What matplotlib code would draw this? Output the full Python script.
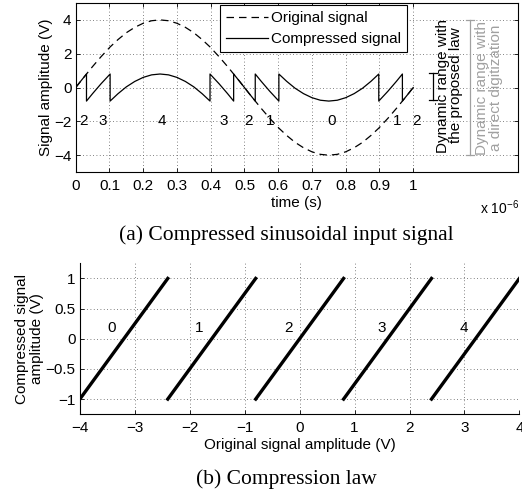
import matplotlib
matplotlib.use("Agg")
import matplotlib.pyplot as plt
import numpy as np

plt.rcParams['font.family'] = ['Liberation Sans', 'DejaVu Sans']
plt.rcParams['font.size'] = 11
plt.rcParams['mathtext.fontset'] = 'custom'
plt.rcParams['mathtext.rm'] = 'Liberation Sans'
plt.rcParams['mathtext.it'] = 'Liberation Sans'
plt.rcParams['xtick.direction'] = 'in'
plt.rcParams['ytick.direction'] = 'in'

# (a) sampled sine input, time in units of 1e-6 s
t_us = [0, 0.015, 0.032, 0.05, 0.075, 0.102, 0.125, 0.15, 0.175, 0.2, 0.225, 0.25,
        0.275, 0.3, 0.325, 0.35, 0.375, 0.398, 0.425, 0.45, 0.468, 0.485, 0.5,
        0.515, 0.532, 0.55, 0.575, 0.602, 0.625, 0.65, 0.675, 0.7, 0.725, 0.75,
        0.775, 0.8, 0.825, 0.85, 0.875, 0.898, 0.925, 0.95, 0.968, 0.985, 1.0]
original = [0, 0.38, 0.8, 1.24, 1.82, 2.4, 2.83, 3.24, 3.56, 3.80, 3.95, 4.0,
            3.95, 3.80, 3.56, 3.24, 2.83, 2.4, 1.82, 1.24, 0.8, 0.38, 0,
            -0.38, -0.8, -1.24, -1.82, -2.4, -2.83, -3.24, -3.56, -3.80, -3.95, -4.0,
            -3.95, -3.80, -3.56, -3.24, -2.83, -2.4, -1.82, -1.24, -0.8, -0.38, 0]

# compression law: 5 sub-ranges of the input
bounds = [-4, -2.4, -0.8, 0.8, 2.4, 4]
centers = [-3.2, -1.6, 0, 1.6, 3.2]
seg_names = ['0', '1', '2', '3', '4']

# segment numbers written under the compressed signal
lab_t = [0.023, 0.08, 0.255, 0.44, 0.512, 0.577, 0.757, 0.953, 1.011]
lab_txt = ['2', '3', '4', '3', '2', '1', '0', '1', '2']
# label positions on the law plot
law_lab_x = [-3.42, -1.83, -0.21, 1.49, 2.99]
law_lab_y = 0.18

# build compressed signal (jump when crossing a sub-range boundary)
tc, yc = [], []
for i in range(len(t_us) - 1):
    m = (original[i] + original[i + 1]) / 2
    k = 0
    while k < 4 and m >= bounds[k + 1]:
        k += 1
    for j in (i, i + 1):
        p = (t_us[j], original[j] - centers[k])
        if len(tc) == 0 or (tc[-1], yc[-1]) != p:
            tc.append(p[0])
            yc.append(p[1])

fig = plt.figure(figsize=(5.22, 4.96), dpi=100)

ax1 = fig.add_axes([0.145, 0.653, 0.847, 0.341])
ax1.plot(t_us, original, color='k', lw=0.9, dashes=(6, 4), label='Original signal')
ax1.plot(tc, yc, color='k', lw=0.9, label='Compressed signal')
for x, s in zip(lab_t, lab_txt):
    ax1.text(x, -2, s, ha='center', va='center')

# dynamic range bars
cap = 0.012
ax1.plot([1.058, 1.058], [-0.75, 0.85], color='k', lw=0.9)
ax1.plot([1.058 - cap, 1.058 + cap], [0.85, 0.85], color='k', lw=0.9)
ax1.plot([1.058 - cap, 1.058 + cap], [-0.75, -0.75], color='k', lw=0.9)
ax1.text(1.108, 0.12, 'Dynamic range with\nthe proposed law', rotation=90,
         ha='center', va='center', linespacing=0.95)
gray = '#a0a0a0'
ax1.plot([1.168, 1.168], [-4, 4], color=gray, lw=0.9)
ax1.plot([1.168 - cap, 1.168 + cap], [4, 4], color=gray, lw=0.9)
ax1.plot([1.168 - cap, 1.168 + cap], [-4, -4], color=gray, lw=0.9)
ax1.text(1.224, 0.0, 'Dynamic range with\na direct digitization', rotation=90,
         ha='center', va='center', color=gray, linespacing=0.95)

ax1.set_xlim(0, 1.31)
ax1.set_ylim(-5, 5)
ax1.set_xticks(np.arange(0, 1.01, 0.1))
ax1.set_xticklabels(['0'] + ['%.1f' % v for v in np.arange(0.1, 0.95, 0.1)] + ['1'])
ax1.set_yticks([-4, -2, 0, 2, 4])
ax1.set_yticklabels(['\u22124', '\u22122', '0', '2', '4'])
ax1.tick_params(top=True, right=True, length=3, width=0.6)
ax1.tick_params(axis='x', pad=5)
ax1.tick_params(axis='y', pad=3)
ax1.grid(True, color='0.35', lw=0.6, dashes=(1, 3))
for sp in ax1.spines.values():
    sp.set_linewidth(0.8)
ax1.set_ylabel('Signal amplitude (V)', labelpad=1)
ax1.set_xlabel('time (s)', labelpad=2)
leg = ax1.legend(loc='upper right', bbox_to_anchor=(0.749, 0.988), borderaxespad=0,
                 fancybox=False, edgecolor='k', framealpha=1, handlelength=2.75,
                 borderpad=0.4, labelspacing=0.45, handletextpad=0.15)
leg.get_frame().set_linewidth(0.8)
fig.text(480 / 522, 1 - 208 / 496, r'x 10$^{-6}$', fontsize=10, va='center')

ax2 = fig.add_axes([0.153, 0.165, 0.842, 0.304])
for k in range(5):
    ax2.plot([bounds[k], bounds[k + 1]], [-1, 1], color='k', lw=2.4)
    ax2.text(law_lab_x[k], law_lab_y, seg_names[k], ha='center', va='center')
ax2.set_xlim(-4, 4)
ax2.set_ylim(-1.25, 1.25)
ax2.set_xticks([-4, -3, -2, -1, 0, 1, 2, 3, 4])
ax2.set_xticklabels(['\u22124', '\u22123', '\u22122', '\u22121', '0', '1', '2', '3', '4'])
ax2.set_yticks([-1, -0.5, 0, 0.5, 1])
ax2.set_yticklabels(['\u22121', '\u22120.5', '0', '0.5', '1'])
ax2.tick_params(length=3, width=0.6)
ax2.tick_params(axis='x', pad=5)
ax2.tick_params(axis='y', pad=3)
ax2.grid(True, color='0.35', lw=0.6, dashes=(1, 3))
ax2.spines['top'].set_visible(False)
ax2.spines['right'].set_visible(False)
ax2.spines['left'].set_linewidth(0.8)
ax2.spines['bottom'].set_linewidth(0.8)
ax2.set_ylabel('Compressed signal\namplitude (V)', labelpad=1, linespacing=1.15)
ax2.set_xlabel('Original signal amplitude (V)', labelpad=2)

fig.text(286 / 522, 1 - 235 / 496, '(a) Compressed sinusoidal input signal',
         family='Liberation Serif', fontsize=15.5, ha='center', va='center')
fig.text(286 / 522, 1 - 479 / 496, '(b) Compression law',
         family='Liberation Serif', fontsize=15.5, ha='center', va='center')

fig.savefig('out.png', dpi=100)
